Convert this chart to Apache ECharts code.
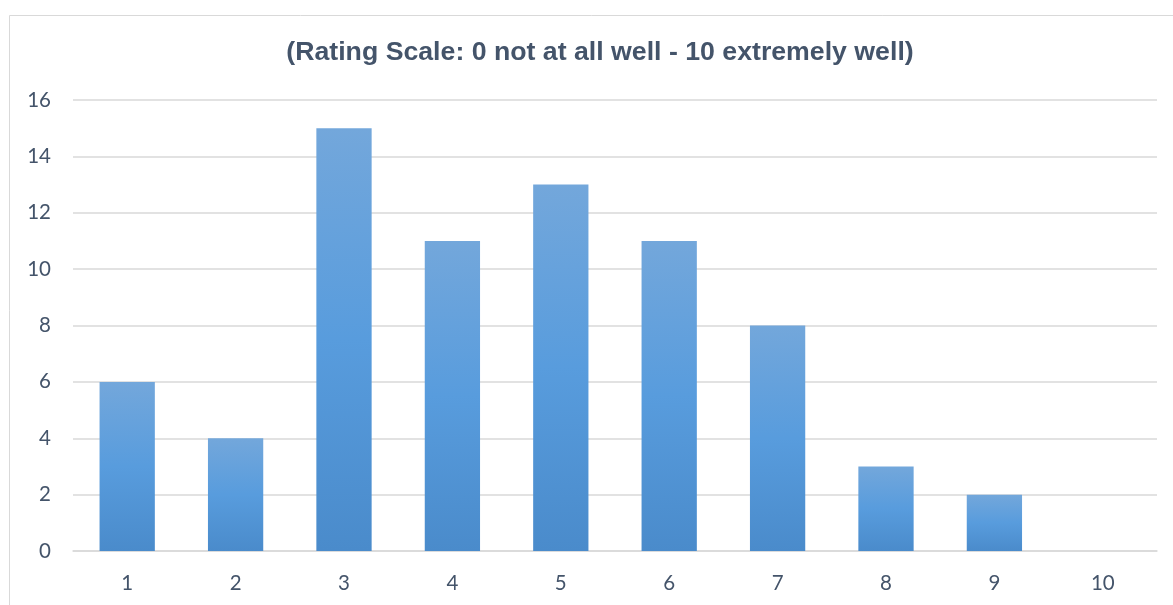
<!DOCTYPE html>
<html>
<head>
<meta charset="utf-8">
<script src="https://cdn.jsdelivr.net/npm/echarts@6/dist/echarts.min.js"></script>
<style>
html,body{margin:0;padding:0;background:#fff;}
#chart{width:1173px;height:605px;}
</style>
</head>
<body>
<div id="chart"></div>
<script>
const titleText = '(Rating Scale: 0 not at all well - 10 extremely well)';
const categories = ['1','2','3','4','5','6','7','8','9','10'];
const counts = [6, 4, 15, 11, 13, 11, 8, 3, 2, 0];
const yTicks = {min: 0, max: 16, interval: 2};

const chart = echarts.init(document.getElementById('chart'));
chart.setOption({
  animation: false,
  backgroundColor: '#fff',
  graphic: [{
    type: 'rect', silent: true, z: -1,
    shape: {x: 9.5, y: 15.5, width: 1200, height: 620},
    style: {fill: 'none', stroke: '#D9D9D9', lineWidth: 1}
  }],
  title: {
    text: titleText, left: 595, top: 34, textAlign: 'center',
    textStyle: {fontFamily: 'Liberation Sans', fontWeight: 'bold', fontSize: 26.7, color: '#44546A'}
  },
  grid: {left: 73, right: 16, top: 100, bottom: 54, containLabel: false},
  xAxis: {
    type: 'category', data: categories,
    axisLine: {show: true, lineStyle: {color: '#D9D9D9', width: 1.5}},
    axisTick: {show: false},
    axisLabel: {color: '#44546A', fontFamily: 'Lato', fontSize: 20.5, margin: 22}
  },
  yAxis: {
    type: 'value', min: yTicks.min, max: yTicks.max, interval: yTicks.interval,
    axisLine: {show: false}, axisTick: {show: false},
    splitLine: {lineStyle: {color: '#D9D9D9', width: 1.5}},
    axisLabel: {color: '#44546A', fontFamily: 'Lato', fontSize: 20.5, margin: 22}
  },
  series: [{
    type: 'bar', data: counts, barWidth: '51%',
    itemStyle: {
      color: new echarts.graphic.LinearGradient(0, 0, 0, 1, [
        {offset: 0, color: '#73A7DB'},
        {offset: 0.5, color: '#589CDD'},
        {offset: 1, color: '#4A8BCB'}
      ])
    }
  }]
});
</script>
</body>
</html>
